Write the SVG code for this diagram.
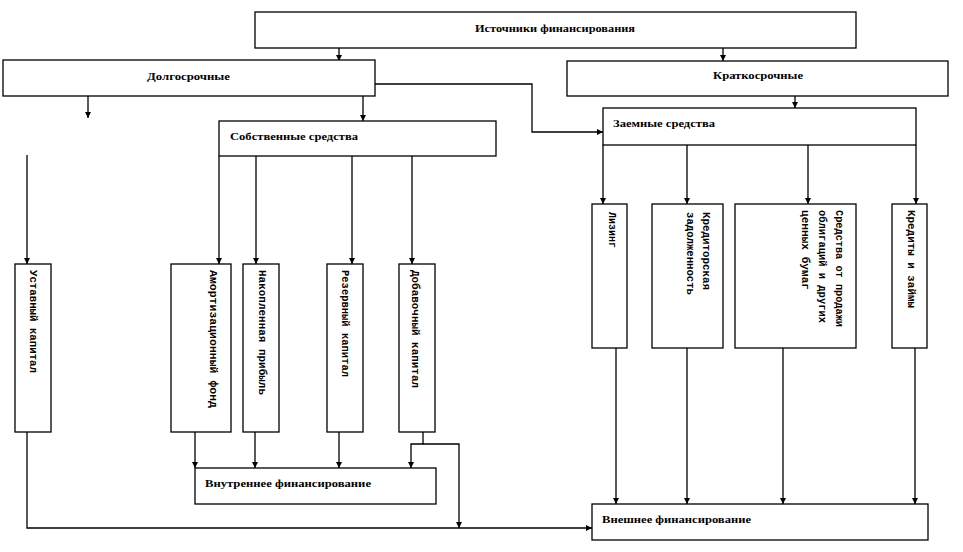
<svg xmlns="http://www.w3.org/2000/svg" width="963" height="552" viewBox="0 0 963 552">
<style>
.box{fill:#fff;stroke:#000;stroke-width:1.3}
.h{font-family:"Liberation Serif","DejaVu Serif","Times New Roman",serif;font-weight:bold;font-size:11px;fill:#000}
.v{font-family:"Liberation Mono","DejaVu Sans Mono","Courier New",monospace;font-weight:bold;font-size:11px;fill:#000}
.c{fill:none;stroke:#000;stroke-width:1.3}
</style>
<defs>
<marker id="a" markerUnits="userSpaceOnUse" markerWidth="6" markerHeight="6" refX="6" refY="3" orient="auto">
<path d="M0,0 L6,3 L0,6 z" fill="#000"/>
</marker>
</defs>
<rect width="963" height="552" fill="#fff"/>
<g id="connectors">
<path class="c" d="M339,48 V61" marker-end="url(#a)"/>
<path class="c" d="M723,48 V61" marker-end="url(#a)"/>
<path class="c" d="M88,96 V118" marker-end="url(#a)"/>
<path class="c" d="M363,96 V121" marker-end="url(#a)"/>
<path class="c" d="M375,84 H532 V132 H603" marker-end="url(#a)"/>
<path class="c" d="M795,96 V108" marker-end="url(#a)"/>
<path class="c" d="M27,155 V264" marker-end="url(#a)"/>
<path class="c" d="M219,156 V264" marker-end="url(#a)"/>
<path class="c" d="M256,156 V264" marker-end="url(#a)"/>
<path class="c" d="M352,156 V264" marker-end="url(#a)"/>
<path class="c" d="M412,156 V264" marker-end="url(#a)"/>
<path class="c" d="M603,145 V204" marker-end="url(#a)"/>
<path class="c" d="M687,145 V204" marker-end="url(#a)"/>
<path class="c" d="M808,145 V204" marker-end="url(#a)"/>
<path class="c" d="M916,145 V204" marker-end="url(#a)"/>
<path class="c" d="M195,432 V468" marker-end="url(#a)"/>
<path class="c" d="M255,432 V468" marker-end="url(#a)"/>
<path class="c" d="M339,432 V468" marker-end="url(#a)"/>
<path class="c" d="M423,432 V444 H411 V468" marker-end="url(#a)"/>
<path class="c" d="M423,444 H459 V528" marker-end="url(#a)"/>
<path class="c" d="M27,432 V528 H592" marker-end="url(#a)"/>
<path class="c" d="M616,348 V504" marker-end="url(#a)"/>
<path class="c" d="M687,348 V504" marker-end="url(#a)"/>
<path class="c" d="M783,348 V504" marker-end="url(#a)"/>
<path class="c" d="M915,348 V504" marker-end="url(#a)"/>
</g>
<g id="sources"><rect class="box" x="255" y="12" width="601" height="36"/><text class="h" x="475" y="32" textLength="160" lengthAdjust="spacingAndGlyphs">Источники финансирования</text></g>
<g id="long"><rect class="box" x="3" y="60" width="372" height="36"/><text class="h" x="147" y="80" textLength="83" lengthAdjust="spacingAndGlyphs">Долгосрочные</text></g>
<g id="short"><rect class="box" x="567" y="61" width="381" height="35"/><text class="h" x="713" y="79" textLength="90" lengthAdjust="spacingAndGlyphs">Краткосрочные</text></g>
<g id="own"><rect class="box" x="219" y="121" width="277" height="35"/><text class="h" x="230" y="140" textLength="128" lengthAdjust="spacingAndGlyphs">Собственные средства</text></g>
<g id="borrowed"><rect class="box" x="603" y="108" width="313" height="37"/><text class="h" x="613" y="127" textLength="102" lengthAdjust="spacingAndGlyphs">Заемные средства</text></g>
<g id="ustav"><rect class="box" x="15" y="264" width="36" height="168"/><text class="v" transform="translate(29.5,270) rotate(90)" textLength="103" lengthAdjust="spacingAndGlyphs">Уставный капитал</text></g>
<g id="amort"><rect class="box" x="171" y="264" width="60" height="168"/><text class="v" transform="translate(209.5,270) rotate(90)" textLength="138" lengthAdjust="spacingAndGlyphs">Амортизационный фонд</text></g>
<g id="nakop"><rect class="box" x="243" y="264" width="36" height="168"/><text class="v" transform="translate(258.5,270) rotate(90)" textLength="125" lengthAdjust="spacingAndGlyphs">Накопленная прибыль</text></g>
<g id="rezerv"><rect class="box" x="327" y="264" width="36" height="168"/><text class="v" transform="translate(341.5,270) rotate(90)" textLength="107" lengthAdjust="spacingAndGlyphs">Резервный капитал</text></g>
<g id="dobav"><rect class="box" x="399" y="264" width="36" height="168"/><text class="v" transform="translate(411.5,270) rotate(90)" textLength="118" lengthAdjust="spacingAndGlyphs">Добавочный капитал</text></g>
<g id="leasing"><rect class="box" x="592" y="204" width="35" height="144"/><text class="v" transform="translate(608.5,212) rotate(90)" textLength="36" lengthAdjust="spacingAndGlyphs">Лизинг</text></g>
<g id="kredit-zad"><rect class="box" x="652" y="204" width="71" height="144"/><text class="v" transform="translate(702.5,212) rotate(90)" textLength="78" lengthAdjust="spacingAndGlyphs">Кредиторская</text><text class="v" transform="translate(686.5,212) rotate(90)" textLength="83" lengthAdjust="spacingAndGlyphs">задолженность</text></g>
<g id="bonds"><rect class="box" x="735" y="204" width="121" height="144"/><text class="v" transform="translate(835.5,210) rotate(90)" textLength="117" lengthAdjust="spacingAndGlyphs">Средства от продажи</text><text class="v" transform="translate(818.5,210) rotate(90)" textLength="113" lengthAdjust="spacingAndGlyphs">облигаций и других</text><text class="v" transform="translate(801.5,210) rotate(90)" textLength="80" lengthAdjust="spacingAndGlyphs">ценных бумаг</text></g>
<g id="loans"><rect class="box" x="892" y="204" width="35" height="144"/><text class="v" transform="translate(907.5,210) rotate(90)" textLength="98" lengthAdjust="spacingAndGlyphs">Кредиты и займы</text></g>
<g id="internal"><rect class="box" x="195" y="468" width="241" height="36"/><text class="h" x="205" y="487" textLength="166" lengthAdjust="spacingAndGlyphs">Внутреннее финансирование</text></g>
<g id="external"><rect class="box" x="592" y="504" width="336" height="36"/><text class="h" x="602" y="523" textLength="149" lengthAdjust="spacingAndGlyphs">Внешнее финансирование</text></g>
</svg>
